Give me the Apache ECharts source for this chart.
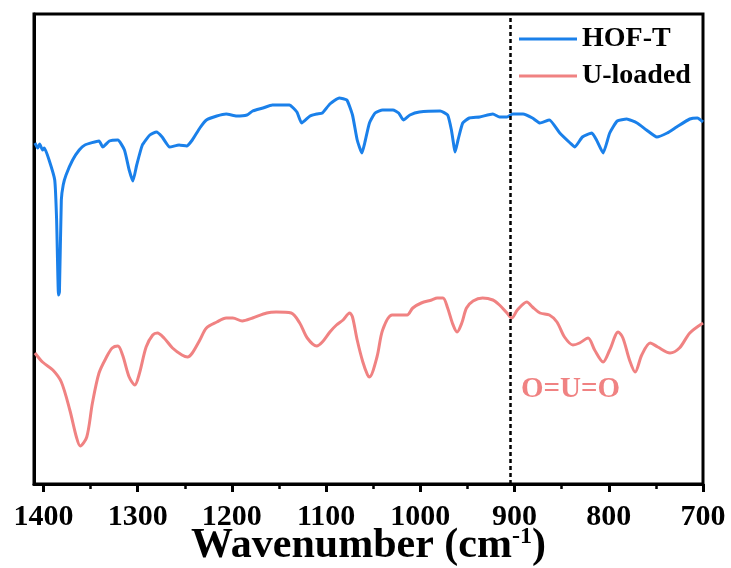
<!DOCTYPE html>
<html>
<head>
<meta charset="utf-8">
<script src="https://cdn.jsdelivr.net/npm/echarts@6/dist/echarts.min.js"></script>
<style>html,body{margin:0;padding:0;background:#fff}#c{width:731px;height:568px}</style>
</head>
<body>
<div id="c"></div>
<script>
// Wavenumber (cm-1) and transmittance (a.u.)
var hofWn = [1409,1406,1404,1401,1399,1394,1388,1386,1384,1383,1381,1379,1376,1369,1362,1356,1341,1337,1330,1321,1314,1309,1305,1301,1295,1287,1280,1274,1266,1256,1248,1242,1234,1227,1216,1206,1195,1184,1178,1167,1157,1139,1131,1126,1117,1110,1104,1096,1086,1078,1072,1067,1062,1059,1054,1048,1040,1029,1023,1018,1011,1001,979,971,967,963,960,955,948,937,923,916,908,902,891,881,873,863,852,841,836,828,818,813,806,799,791,781,770,760,749,738,728,714,706,700];
var hofT = [34.1,33.6,34.0,33.4,33.6,32.4,30.4,26.4,18.9,19.2,28.4,29.9,30.9,32.4,33.4,33.9,34.3,33.7,34.3,34.4,33.4,31.4,30.3,31.9,33.9,34.9,35.2,34.7,33.7,33.9,33.8,34.4,35.6,36.4,36.8,37.0,36.8,36.9,37.3,37.6,37.9,37.9,37.2,36.1,36.8,37.0,37.1,38.0,38.6,38.4,36.9,34.4,33.1,34.1,36.1,37.1,37.4,37.4,37.1,36.4,36.9,37.2,37.3,36.9,35.4,33.2,34.4,36.1,36.6,36.7,37.0,36.7,36.7,37.0,37.0,36.6,36.1,36.4,35.1,34.1,33.7,34.7,35.1,34.4,33.1,35.1,36.3,36.5,36.1,35.4,34.7,35.1,35.7,36.5,36.6,36.2];
var uWn = [1409,1401,1390,1381,1372,1365,1361,1354,1348,1341,1333,1327,1321,1316,1309,1303,1298,1291,1284,1279,1272,1263,1253,1247,1242,1234,1227,1216,1206,1199,1189,1178,1163,1153,1137,1128,1120,1110,1104,1096,1089,1082,1075,1072,1067,1061,1056,1054,1046,1040,1030,1022,1014,1008,999,988,982,976,971,966,961,956,951,944,934,923,916,908,903,897,887,881,873,863,855,847,838,831,822,815,806,799,790,785,778,772,765,756,748,735,725,714,700];
var uT = [13.1,12.2,11.4,10.2,7.4,4.7,3.8,4.7,8.1,11.1,12.7,13.6,13.8,12.9,10.7,9.9,11.1,13.7,14.9,15.1,14.6,13.6,12.9,12.7,13.1,14.4,15.6,16.2,16.6,16.6,16.3,16.6,17.1,17.2,17.1,16.1,14.6,13.8,14.2,15.2,15.9,16.4,17.1,16.7,14.4,12.2,10.9,10.7,12.7,15.4,16.9,16.9,16.9,17.6,18.1,18.4,18.6,18.6,17.6,16.1,15.2,16.1,17.6,18.3,18.6,18.4,17.9,17.1,16.6,17.4,18.2,17.7,17.1,16.9,16.2,14.7,13.9,14.1,14.6,13.4,12.2,13.4,15.2,14.6,12.4,11.2,12.9,14.1,13.7,13.1,13.6,15.1,16.1];
var majorTicks = [1400,1300,1200,1100,1000,900,800,700];
var minorTicks = [1350,1250,1150,1050,950,850,750];
var markerWn = 905;
var seriesNames = ['HOF-T','U-loaded'];

function zip(a,b){return a.map(function(v,i){return [v,b[i]];});}

var font = '"Liberation Serif","Times New Roman",serif';
var chart = echarts.init(document.getElementById('c'), null, {renderer:'canvas'});
chart.setOption({
  animation:false,
  backgroundColor:'#fff',
  grid:{left:34,right:28,top:14,bottom:84,outerBoundsMode:'none',containLabel:false,show:true,borderColor:'#000',borderWidth:3,backgroundColor:'transparent'},
  legend:{
    orient:'vertical', left:514, top:20, itemWidth:58, itemHeight:3, itemGap:9, icon:'rect',
    data:seriesNames,
    textStyle:{fontFamily:font,fontWeight:'bold',fontSize:28,color:'#000'}
  },
  xAxis:[{
    type:'value', min:700, max:1410, inverse:true,
    axisLine:{show:true,lineStyle:{color:'#000',width:3}},
    axisTick:{show:true,length:8,lineStyle:{color:'#000',width:3},customValues:majorTicks},
    axisLabel:{fontFamily:font,fontWeight:'bold',fontSize:30,color:'#000',margin:18,customValues:majorTicks,
      formatter:function(v){return String(v);}},
    splitLine:{show:false},
    name:'{a|Wavenumber (cm}{s|-1}{a|)}', nameLocation:'middle', nameGap:41, nameMoveOverlap:false,
    nameTextStyle:{rich:{
      a:{fontFamily:font,fontWeight:'bold',fontSize:42,color:'#000'},
      s:{fontFamily:font,fontWeight:'bold',fontSize:24,color:'#000',verticalAlign:'top',padding:[0,0,14,0]}
    }}
  },{
    type:'value', min:700, max:1410, inverse:true, position:'bottom',
    axisLine:{show:false},
    axisTick:{show:true,length:5,lineStyle:{color:'#000',width:2.5},customValues:minorTicks},
    axisLabel:{show:false}, splitLine:{show:false}
  }],
  yAxis:{
    type:'value', min:0, max:47,
    axisLine:{show:true,lineStyle:{color:'#000',width:3}},
    axisTick:{show:false}, axisLabel:{show:false}, splitLine:{show:false}
  },
  series:[{
    name:seriesNames[0], type:'line', data:zip(hofWn,hofT), showSymbol:false, smooth:0.15,
    lineStyle:{color:'#1a80ea',width:3}, itemStyle:{color:'#1a80ea'}, z:3,
    markLine:{silent:true,symbol:'none',label:{show:false},
      lineStyle:{color:'#000',type:[4,3],width:2.5},
      data:[{xAxis:markerWn}]}
  },{
    name:seriesNames[1], type:'line', data:zip(uWn,uT), showSymbol:false, smooth:0.3,
    lineStyle:{color:'#f08282',width:3}, itemStyle:{color:'#f08282'}, z:2
  }],
  graphic:[{
    type:'text', left:521, top:375,
    style:{text:'O=U=O', fontFamily:font, fontWeight:'bold', fontSize:29, fill:'#f08282'}
  }]
});
</script>
</body>
</html>
